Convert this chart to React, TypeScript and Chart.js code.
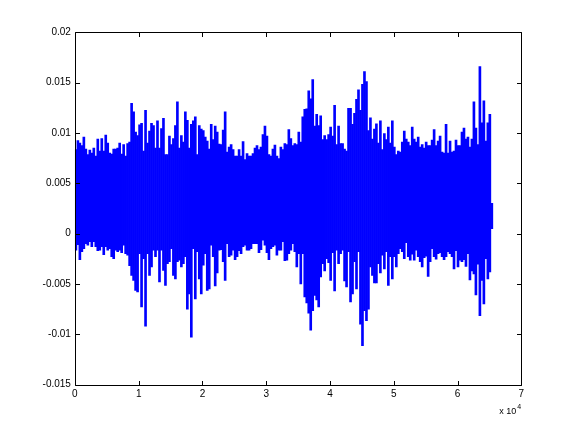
import React, { useEffect, useRef } from "react";
import { Chart, registerables } from "chart.js";

Chart.register(...registerables);

// Total number of samples of the recorded signal
const SAMPLE_COUNT = 65536;

// Axis ticks
const xTicks = [0, 10000, 20000, 30000, 40000, 50000, 60000, 70000];
const xTickLabels = ["0", "1", "2", "3", "4", "5", "6", "7"];
const yTicks = [-0.015, -0.01, -0.005, 0, 0.005, 0.01, 0.015, 0.02];
const yTickLabels = ["-0.015", "-0.01", "-0.005", "0", "0.005", "0.01", "0.015", "0.02"];

// Signal envelope, per block of samples, in units of 1e-3
const upperMilli = [
  // 0 – 1.1e4
  8.35, 9.25, 9.0, 8.75, 9.6, 8.4, 7.85, 8.3, 8.0, 8.5, 7.7, 9.4, 8.2, 9.45, 8.2, 9.8, 9.0, 8.0,
  7.9, 8.4, 8.4, 8.5, 9.0, 7.9, 8.85, 7.7, 8.95, 9.1, 12.95, 12.1, 10.1, 9.75, 10.8, 10.95, 8.2,
  // 1.1e4 – 2.2e4
  12.25, 9.0, 10.2, 10.95, 10.75, 8.5, 11.2, 8.5, 10.45, 11.45, 7.85, 7.85, 9.7, 8.85, 9.45, 10.75,
  13.1, 8.5, 9.75, 9.1, 12.1, 11.25, 8.5, 10.85, 11.2, 11.6, 7.85, 10.75, 10.4, 10.25, 9.6, 9.2,
  8.4, 10.85, 9.35,
  // 2.2e4 – 3.3e4
  10.7, 10.1, 8.9, 8.85, 10.3, 12.1, 8.1, 8.6, 8.85, 8.35, 7.7, 7.7, 8.35, 7.7, 9.15, 7.35, 7.95,
  7.7, 7.7, 7.95, 8.5, 8.75, 8.35, 8.6, 9.85, 10.7, 9.7, 7.85, 7.7, 8.4, 8.8, 7.7, 7.45, 8.6, 8.35,
  // 3.3e4 – 4.4e4
  8.95, 8.85, 10.35, 9.45, 8.75, 8.95, 8.85, 10.1, 9.1, 11.6, 12.35, 12.4, 14.2, 13.4, 15.3, 10.7,
  11.85, 10.75, 11.7, 9.35, 9.75, 9.35, 9.85, 10.6, 9.7, 12.75, 8.85, 10.7, 8.95, 8.95, 8.4, 8.2,
  12.45, 12.45, 10.85,
  // 4.4e4 – 5.5e4
  11.95, 13.35, 14.3, 12.25, 14.85, 16.1, 15.1, 10.25, 11.5, 9.4, 10.4, 10.9, 9.0, 11.2, 8.35, 9.95,
  9.35, 10.6, 9.0, 11.2, 8.6, 7.85, 8.2, 8.1, 9.1, 10.2, 9.4, 9.1, 8.75, 10.6, 9.4, 9.1, 9.6, 8.6,
  8.85,
  // 5.5e4 – end
  8.5, 9.1, 8.75, 8.75, 9.3, 10.35, 8.75, 9.2, 9.7, 8.1, 8.0, 10.85, 8.0, 9.2, 8.1, 8.2, 9.3, 8.75,
  8.75, 10.1, 10.5, 9.4, 9.6, 8.6, 9.4, 13.1, 10.5, 8.85, 16.6, 11.0, 13.2, 9.2, 11.0, 11.85, 3.0,
];

const lowerMilli = [
  // 0 – 1.1e4
  -1.65, -1.1, -2.6, -1.8, -1.5, -1.0, -1.15, -0.8, -1.3, -0.8, -1.3, -1.7, -1.65, -1.3, -2.1, -1.3,
  -1.65, -1.5, -2.3, -2.5, -1.65, -1.8, -1.65, -1.9, -1.15, -2.0, -2.15, -3.2, -4.15, -4.65, -5.65,
  -5.8, -2.0, -7.3, -2.5,
  // 1.1e4 – 2.2e4
  -9.2, -2.0, -4.15, -3.3, -1.65, -2.3, -1.65, -4.8, -1.65, -3.65, -5.15, -3.0, -2.8, -1.5, -4.15,
  -4.5, -2.8, -2.65, -3.3, -3.0, -2.3, -7.5, -6.0, -10.3, -1.5, -6.5, -1.8, -4.5, -6.0, -3.15, -2.0,
  -5.65, -5.5, -1.15, -2.3,
  // 2.2e4 – 3.3e4
  -5.2, -3.9, -1.65, -1.6, -2.8, -4.65, -1.0, -2.3, -2.15, -1.65, -2.6, -2.3, -1.7, -2.0, -1.3,
  -1.15, -1.65, -1.65, -1.5, -1.0, -1.0, -1.0, -1.9, -1.6, -0.65, -1.15, -1.9, -2.6, -1.5, -1.3,
  -1.15, -2.15, -1.65, -1.65, -0.8,
  // 3.3e4 – 4.4e4
  -2.7, -2.65, -2.0, -1.65, -1.0, -1.8, -3.3, -2.0, -5.0, -2.0, -6.3, -6.9, -7.9, -9.6, -7.65,
  -6.15, -6.6, -7.3, -4.3, -3.0, -3.7, -2.5, -2.9, -4.65, -1.9, -5.7, -1.65, -3.0, -2.0, -1.65,
  -4.7, -5.3, -1.8, -6.8, -6.0,
  // 4.4e4 – 5.5e4
  -2.8, -5.5, -1.8, -9.0, -11.15, -7.65, -8.65, -7.5, -3.3, -4.15, -4.9, -4.9, -3.0, -3.9, -2.15,
  -3.5, -1.8, -5.15, -2.3, -4.5, -2.3, -3.3, -2.0, -1.5, -1.8, -2.5, -0.9, -2.3, -2.65, -2.05,
  -2.65, -1.65, -2.3, -2.8, -3.3,
  // 5.5e4 – end
  -2.4, -2.25, -4.25, -2.8, -1.5, -2.3, -2.55, -2.0, -1.9, -2.3, -2.6, -2.3, -1.8, -2.0, -2.3,
  -3.5, -1.7, -3.3, -2.65, -2.8, -2.6, -3.25, -2.0, -4.6, -3.7, -4.0, -6.1, -3.05, -8.15, -4.65,
  -7.0, -2.5, -4.5, -3.8, 0.5,
];

const MILLI = 1e-3;
const FONT_FAMILY = "'Liberation Sans', Arial, Helvetica, sans-serif";

export default function App() {
  const canvasRef = useRef<HTMLCanvasElement>(null);

  useEffect(() => {
    document.body.style.margin = "0";
    const canvas = canvasRef.current;
    if (!canvas) return;

    const n = upperMilli.length;
    const binWidth = SAMPLE_COUNT / n;
    const data = upperMilli.map((u, i) => ({
      x: (i + 0.5) * binWidth,
      y: [lowerMilli[i] * MILLI, u * MILLI],
    }));

    const boxPlugin = {
      id: "matlabBox",
      afterDraw(chart: any) {
        const { ctx, chartArea: a, scales } = chart;
        const L = Math.round(a.left) + 0.5;
        const R = Math.round(a.right) + 0.5;
        const T = Math.round(a.top) + 0.5;
        const B = Math.round(a.bottom) + 0.5;
        const tl = 4.5;
        ctx.save();
        ctx.strokeStyle = "#000";
        ctx.lineWidth = 1;
        ctx.beginPath();
        ctx.rect(L, T, R - L, B - T);
        xTicks.forEach((v) => {
          const px = Math.round(scales.x.getPixelForValue(v)) + 0.5;
          ctx.moveTo(px, B);
          ctx.lineTo(px, B - tl);
          ctx.moveTo(px, T);
          ctx.lineTo(px, T + tl);
        });
        yTicks.forEach((v) => {
          const py = Math.round(scales.y.getPixelForValue(v)) + 0.5;
          ctx.moveTo(L, py);
          ctx.lineTo(L + tl, py);
          ctx.moveTo(R, py);
          ctx.lineTo(R - tl, py);
        });
        ctx.stroke();
        // exponent label of the x axis
        ctx.fillStyle = "#000";
        ctx.textAlign = "left";
        ctx.textBaseline = "alphabetic";
        ctx.font = `9px ${FONT_FAMILY}`;
        ctx.fillText("x 10", a.right - 22, a.bottom + 29);
        ctx.font = `7px ${FONT_FAMILY}`;
        ctx.fillText("4", a.right - 4, a.bottom + 24);
        ctx.restore();
      },
    };

    const chart = new Chart(canvas, {
      type: "bar",
      data: {
        datasets: [
          {
            data: data as any,
            backgroundColor: "#0000ff",
            borderWidth: 0,
            categoryPercentage: 1,
            barPercentage: 1,
          },
        ],
      },
      options: {
        animation: false,
        responsive: false,
        maintainAspectRatio: false,
        layout: { padding: { left: 0, top: 32.4, right: 54.7, bottom: 0 } },
        plugins: {
          legend: { display: false },
          tooltip: { enabled: false },
        },
        scales: {
          x: {
            type: "linear",
            min: 0,
            max: 70000,
            offset: false,
            grid: { display: false, drawTicks: false },
            border: { display: false },
            afterBuildTicks: (s: any) => {
              s.ticks = xTicks.map((v) => ({ value: v }));
            },
            afterFit: (s: any) => {
              s.height = 47.5;
            },
            ticks: {
              autoSkip: false,
              maxRotation: 0,
              padding: 4,
              color: "#000",
              font: { family: FONT_FAMILY, size: 10 },
              callback: (_v: any, i: number) => xTickLabels[i],
            },
          },
          y: {
            type: "linear",
            min: -0.015,
            max: 0.02,
            grid: { display: false, drawTicks: false },
            border: { display: false },
            afterBuildTicks: (s: any) => {
              s.ticks = yTicks.map((v) => ({ value: v }));
            },
            afterFit: (s: any) => {
              s.width = 74.9;
            },
            ticks: {
              autoSkip: false,
              padding: 4,
              color: "#000",
              font: { family: FONT_FAMILY, size: 10 },
              callback: (_v: any, i: number) => yTickLabels[i],
            },
          },
        },
      },
      plugins: [boxPlugin],
    });

    return () => chart.destroy();
  }, []);

  return (
    <div style={{ width: 576, height: 432, background: "#fff" }}>
      <canvas ref={canvasRef} width={576} height={432} style={{ display: "block" }} />
    </div>
  );
}
